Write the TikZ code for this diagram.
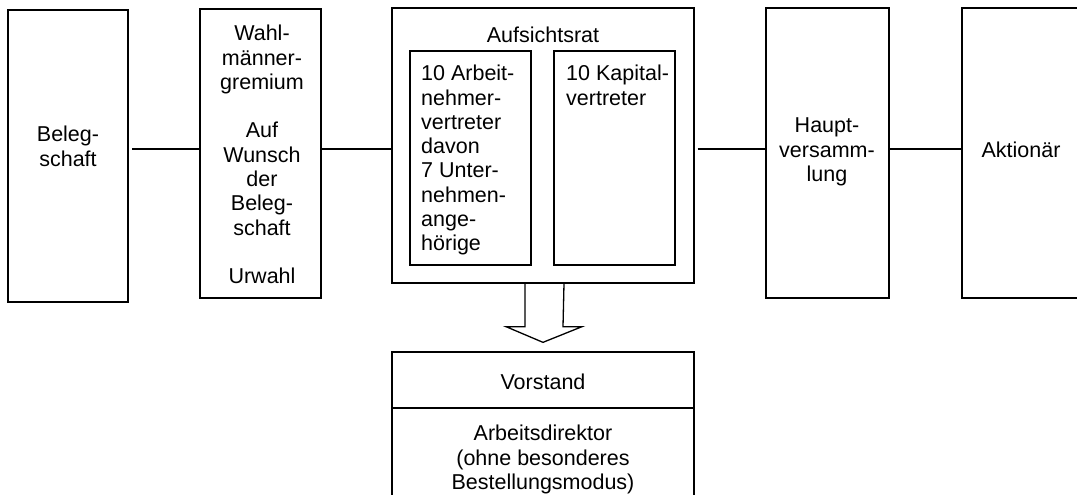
\documentclass[tikz,border=0pt]{standalone}
\usepackage{fontspec}
\setmainfont{Liberation Sans}
\begin{document}
\begin{tikzpicture}[x=1pt,y=-1pt,
  box/.style={draw, line width=1.3pt, rectangle, inner sep=0pt},
  txt/.style={inner sep=0pt, font=\fontsize{21.5}{24.3}\selectfont},
  link/.style={line width=1.3pt}]
\clip (0,0) rectangle (1077,495);
\fill[white] (0,0) rectangle (1077,495);

% main boxes
\node[box, minimum width=120pt, minimum height=292pt] (bel) at (68,156) {};
\node[box, minimum width=121pt, minimum height=289pt] (wahl) at (260.5,153.5) {};
\node[box, minimum width=302pt, minimum height=275pt] (ar) at (543,145.5) {};
\node[box, minimum width=121pt, minimum height=214pt] (arA) at (470.5,158) {};
\node[box, minimum width=121pt, minimum height=214pt] (arB) at (614.5,158) {};
\node[box, minimum width=123pt, minimum height=290pt] (hv) at (827.5,153) {};
\node[box, minimum width=123pt, minimum height=290pt] (akt) at (1023.5,153) {};
\node[box, minimum width=302pt, minimum height=56pt] (vor) at (543,380) {};
\node[box, minimum width=302pt, minimum height=130pt] (vorB) at (543,473) {};

% texts
\node[txt, anchor=north, align=center] (tbel) at (68,126) {Beleg-\\schaft};
\node[txt, anchor=north, align=center] (twahl) at (262,25)
  {Wahl-\\männer-\\gremium\\[24.3pt]Auf\\Wunsch\\der\\Beleg-\\schaft\\[24.3pt]Urwahl};
\node[txt, anchor=north] (tar) at (543,27) {Aufsichtsrat};
\node[txt, anchor=north west, align=left] (tarA) at (421,65)
  {10 Arbeit-\\nehmer-\\vertreter\\davon\\7 Unter-\\nehmen-\\ange-\\hörige};
\node[txt, anchor=north west, align=left] (tarB) at (566,65) {10 Kapital-\\vertreter};
\node[txt, anchor=north, align=center] (thv) at (827,118) {Haupt-\\versamm-\\lung};
\node[txt, anchor=north] (takt) at (1021,142) {Aktionär};
\node[txt, anchor=north] (tvor) at (543,374) {Vorstand};
\node[txt, anchor=north, align=center] (tvorB) at (543,425)
  {Arbeitsdirektor\\(ohne besonderes\\Bestellungsmodus)};

% connectors
\draw[link, shorten <=3.5pt] (bel.east |- 0,149) -- (wahl.west |- 0,149);
\draw[link] (wahl.east |- 0,149) -- (ar.west |- 0,149);
\draw[link, shorten <=3pt] (ar.east |- 0,149) -- (hv.west |- 0,149);
\draw[link] (hv.east |- 0,149) -- (akt.west |- 0,149);

% block arrow from Aufsichtsrat to Vorstand
\draw[link, line join=miter] ([xshift=-18pt]ar.south) -- ++(0,43) -- ++(-19,0)
  -- ([yshift=9pt]vor.north) -- ([xshift=39pt,yshift=-43pt]ar.south)
  -- ++(-19,0) -- ([xshift=21pt]ar.south);
\end{tikzpicture}
\end{document}
